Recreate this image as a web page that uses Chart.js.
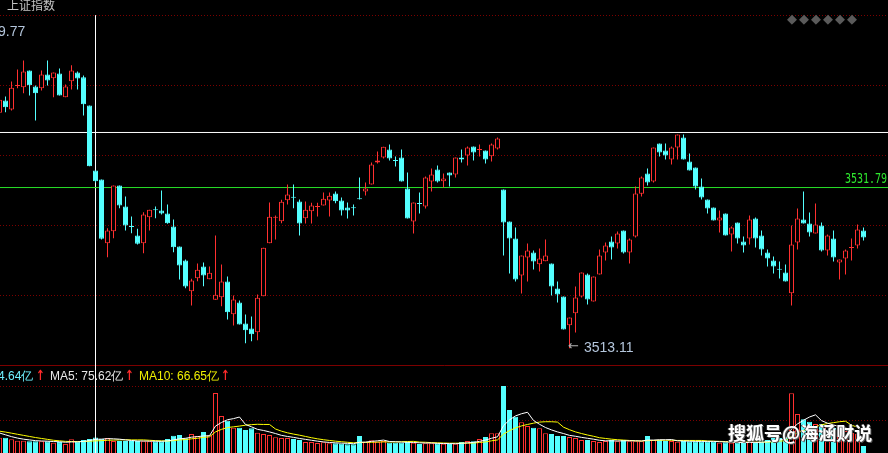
<!DOCTYPE html>
<html><head><meta charset="utf-8">
<script src="https://cdn.jsdelivr.net/npm/chart.js@4.4.1/dist/chart.umd.min.js"></script>
<style>
html,body{margin:0;padding:0;background:#000;width:888px;height:453px;overflow:hidden;}
#wrap{position:relative;width:888px;height:453px;background:#000;}
#pc{position:absolute;left:0;top:0;}
#vc{position:absolute;left:0;top:365px;}
.t{position:absolute;white-space:nowrap;line-height:12px;font-size:12px;font-family:"Liberation Sans",Arial,sans-serif;z-index:5;}
.n{font-family:"Liberation Sans Narrow","Liberation Sans",sans-serif;font-size:14px;line-height:14px;color:#b4c6dc;}
.ar{color:#ff2a2a;font-family:"DejaVu Sans",sans-serif;font-weight:bold;font-size:14px;display:inline-block;transform:scaleX(0.75);transform-origin:left center;}
.dm span{display:inline-block;width:12px;text-align:center;}
</style></head><body>
<div id="wrap">
<canvas id="pc" width="888" height="365"></canvas>
<canvas id="vc" width="888" height="88"></canvas>
<div class="t" id="title" style="left:7px;top:-1px;color:#c4c4c4;font-family:'Noto Sans CJK SC',sans-serif;"></div>
<div class="t n" id="topLbl" style="left:-2px;top:24px;"></div>
<div class="t" id="lowArrow" style="left:568px;top:340px;color:#b0b0b0;font-family:'DejaVu Sans',sans-serif;font-size:13px;"></div>
<div class="t n" id="lowLbl" style="left:584px;top:340px;"></div>
<div class="t" id="lastLbl" style="left:845px;top:172px;color:#2ee82e;font-family:'DejaVu Sans Mono',monospace;font-size:10px;line-height:10px;transform:scaleY(1.35);transform-origin:left top;"></div>
<div class="t dm" id="dots" style="left:786px;top:12px;color:#5a5a5a;font-family:'DejaVu Sans',sans-serif;font-size:13px;line-height:14px;"></div>
<div class="t" id="vLbl" style="left:-2px;top:370px;color:#6ff0ff;"></div>
<div class="t" id="vArr1" style="left:36px;top:369px;"></div>
<div class="t" id="ma5Lbl" style="left:50px;top:370px;color:#e8e8e8;"></div>
<div class="t" id="vArr2" style="left:125px;top:369px;"></div>
<div class="t" id="ma10Lbl" style="left:139px;top:370px;color:#f0f000;"></div>
<div class="t" id="vArr3" style="left:221px;top:369px;"></div>
<div class="t" id="wm" style="left:728px;top:422px;color:#fff;font-family:'Noto Sans CJK SC',sans-serif;font-weight:bold;font-size:18px;line-height:20px;text-shadow:1px 1px 0 #555,-1px 0 0 #333;"></div>
</div>
<script>
// ---------- data (5-minute candles of 上证指数) ----------
const titleText = '上证指数';
const opens = [3540.48,3541.90,3540.86,3543.60,3543.45,3545.39,3543.53,3543.33,3544.93,3544.50,
3545.04,3542.29,3544.15,3545.16,3544.61,3541.32,3533.77,3532.72,3525.32,3526.71,
3532.02,3529.58,3527.31,3526.21,3525.32,3528.34,3529.25,3529.12,3528.77,3527.26,
3524.93,3523.30,3519.74,3521.25,3522.61,3521.13,3518.74,3519.04,3520.86,3517.06,
3518.42,3515.98,3515.40,3514.97,3519.15,3525.32,3528.29,3527.87,3530.31,3530.71,
3530.16,3528.22,3529.04,3529.53,3529.70,3530.28,3531.09,3530.28,3529.47,3529.48,
3530.53,3531.33,3532.14,3534.70,3535.28,3536.21,3534.98,3535.28,3531.67,3527.84,
3529.98,3529.58,3532.49,3533.88,3532.52,3533.54,3533.30,3535.28,3535.51,3536.56,
3536.15,3536.09,3535.43,3536.32,3531.56,3527.84,3525.86,3521.56,3523.65,3524.23,
3522.87,3523.22,3522.96,3520.05,3519.12,3515.78,3517.18,3519.12,3521.68,3518.54,
3521.68,3524.23,3525.51,3525.28,3526.79,3524.23,3526.09,3531.06,3533.42,3532.49,
3536.91,3536.09,3535.05,3536.44,3537.60,3534.81,3534.12,3531.91,3530.40,3529.47,
3527.95,3528.77,3526.33,3527.72,3525.51,3525.86,3528.19,3526.21,3524.23,3523.30,
3522.34,3521.91,3519.50,3525.40,3528.07,3527.61,3526.44,3527.37,3524.47,3525.86,
3523.07,3523.54,3524.77,3525.05,3526.79];
const highs = [3542.25,3542.37,3544.11,3545.51,3546.55,3545.39,3543.65,3545.39,3546.55,3545.16,
3545.62,3543.76,3546.01,3545.28,3544.81,3541.32,3533.77,3532.72,3527.06,3532.02,
3532.02,3530.74,3528.42,3526.99,3528.92,3529.20,3529.58,3531.44,3529.81,3528.07,
3524.93,3523.42,3521.18,3522.96,3523.07,3522.61,3526.21,3522.84,3521.44,3519.24,
3518.65,3517.03,3516.79,3519.35,3524.78,3530.05,3528.54,3530.36,3532.14,3532.14,
3530.40,3530.16,3530.01,3530.01,3531.21,3531.21,3531.33,3530.63,3530.05,3529.81,
3532.95,3532.37,3534.70,3535.98,3536.52,3536.79,3535.39,3536.21,3533.53,3530.05,
3531.21,3533.07,3534.00,3534.35,3533.42,3533.54,3535.28,3536.21,3536.56,3536.56,
3536.79,3536.09,3536.91,3537.60,3531.56,3527.84,3527.14,3523.89,3525.28,3524.47,
3524.70,3525.75,3522.96,3520.86,3519.12,3516.68,3520.28,3521.91,3521.79,3521.44,
3524.58,3525.40,3526.09,3526.68,3526.79,3525.86,3531.91,3533.07,3534.00,3536.44,
3536.91,3536.91,3536.56,3537.95,3537.95,3535.74,3534.12,3532.84,3530.40,3529.47,
3529.12,3528.77,3527.26,3527.72,3526.09,3528.54,3528.30,3526.79,3524.58,3523.77,
3523.19,3522.84,3527.37,3529.35,3531.33,3528.88,3529.93,3527.72,3526.33,3526.79,
3523.42,3524.58,3525.86,3527.49,3527.14];
const lows = [3540.28,3540.54,3540.74,3543.33,3542.75,3542.49,3539.58,3543.07,3543.65,3542.29,
3542.49,3542.29,3543.18,3543.18,3540.16,3534.27,3532.37,3525.75,3523.69,3525.90,
3529.38,3526.79,3526.48,3525.16,3524.15,3526.79,3528.22,3528.65,3527.57,3524.27,
3521.10,3520.09,3518.07,3520.90,3520.32,3521.13,3518.74,3517.99,3516.45,3515.75,
3515.86,3513.69,3513.92,3514.04,3519.15,3525.32,3525.75,3527.64,3529.81,3529.38,
3526.21,3527.61,3527.61,3528.42,3529.70,3528.42,3529.97,3528.54,3528.19,3528.54,
3530.40,3530.86,3532.14,3534.58,3535.16,3534.93,3534.23,3532.49,3528.19,3526.44,
3528.77,3529.35,3531.33,3532.37,3531.79,3531.91,3532.95,3534.70,3534.35,3534.93,
3535.39,3534.58,3534.81,3536.21,3523.89,3521.79,3520.86,3519.47,3520.86,3522.26,
3522.03,3523.22,3519.24,3518.42,3515.28,3513.11,3514.93,3519.00,3518.19,3518.54,
3521.68,3523.30,3523.42,3524.70,3524.12,3522.96,3525.98,3530.74,3532.02,3532.37,
3535.39,3535.05,3534.46,3535.05,3535.05,3533.77,3531.56,3530.40,3528.77,3527.95,
3526.56,3526.21,3524.35,3525.28,3524.23,3525.16,3524.82,3523.89,3522.61,3521.79,
3521.21,3520.86,3518.07,3524.58,3527.61,3526.09,3526.44,3524.35,3523.89,3523.19,
3521.10,3521.68,3523.30,3524.70,3525.63];
const closes = [3541.99,3541.13,3543.38,3543.70,3545.28,3543.68,3542.75,3544.93,3544.23,3545.16,
3542.49,3543.53,3545.39,3544.46,3541.47,3534.27,3532.52,3525.83,3526.79,3532.02,
3529.70,3527.37,3527.21,3525.25,3528.65,3529.20,3529.15,3528.77,3527.64,3524.85,
3522.72,3520.28,3520.98,3522.22,3521.56,3521.87,3519.32,3520.86,3517.29,3518.77,
3515.86,3515.20,3514.74,3518.97,3524.78,3528.39,3528.39,3530.13,3530.98,3530.61,
3527.61,3529.20,3529.70,3529.63,3530.48,3530.83,3530.20,3529.12,3529.12,3529.38,
3530.43,3531.67,3534.46,3534.93,3536.52,3535.16,3534.88,3532.49,3528.19,3530.05,
3529.88,3532.95,3533.30,3532.49,3532.84,3533.19,3535.28,3535.05,3536.44,3535.86,
3536.27,3535.05,3536.79,3537.49,3527.72,3525.86,3521.10,3523.89,3524.47,3523.19,
3523.54,3523.89,3520.28,3519.35,3515.28,3516.68,3519.00,3521.91,3518.77,3521.44,
3523.89,3525.05,3524.82,3526.44,3524.23,3525.75,3531.09,3532.95,3532.37,3536.44,
3535.86,3535.51,3536.44,3537.95,3535.05,3533.77,3531.91,3530.63,3529.35,3527.95,
3528.30,3526.21,3527.14,3525.86,3525.05,3528.07,3525.86,3524.58,3523.54,3522.61,
3522.24,3520.86,3525.16,3528.19,3527.61,3526.56,3527.49,3524.47,3526.21,3523.65,
3523.42,3524.47,3524.87,3526.91,3525.98];
// turnover (亿)
const volumes = [84,84,75,68,68,64,64,64,64,57,
60,50,75,64,72,77,84.64,79,82,66,
66,66,66,66,64,64,64,64,77,95,
99,81,104.5,93.5,115.5,97,330,203.5,177.5,139,
139,126.5,136,111.5,104.5,99,86,82.5,82.5,77,
71.5,60.5,60.5,55,59,53,53,51,48,48,
93.5,62,70,62,66,57,57,57,60.5,57,
49.5,53,53,53,51,49.5,51,60.5,66,64,
77,88,108,108,368.5,236.5,200,169,148.5,139,
136,108,104.5,93.5,93.5,88,82.5,71.5,71.5,66,
60.5,66,71.5,64,71.5,64,64,64,93.5,71.5,
71.5,66,66,62,66,64,64,64,64,62,
57,59,57,57,55,60.5,60.5,64,71.5,82.5,
82.5,90,328,214.5,185,172,159.5,159.5,143,137.5,
126.5,121,110,104.5,38.5];
const ma5 = [110,100,90,82,76,72,68,66,65,63,
62,59,61,61,64,68,75.62,76,79,78,
76,72,69,66,66,65,65,64,67,72,
78,81,87,90,94,95,148,168,183,189,
198,157,144,130,124,116,107,97,91,86,
80,75,70,65,61,58,56,54,53,51,
59,60,64,67,71,63,62,60,59,58,
56,55,55,53,52,52,51,53,56,58,
64,71,81,89,150,182,204,216,224,179,
158,140,127,116,107,97,92,86,81,76,
70,67,67,66,67,67,67,66,71,71,
73,73,74,67,66,65,64,64,64,64,
62,61,60,58,57,58,58,59,62,68,
72,78,131,160,180,198,210,178,164,154,
145,137,128,120,104];
const ma10 = [120,115,109,103,97,91,85,80,75,70,
67,64,63,63,63,65,66.65,68,70,71,
72,73,72,72,72,70,68,67,66,68,
72,74,78,81,86,89,116,130,140,144,
148,153,156,158,157,157,132,120,111,104,
98,91,84,78,73,69,65,62,59,56,
58,58,59,60,61,61,61,62,63,64,
60,59,57,56,55,54,54,54,54,55,
58,61,67,72,104,123,138,149,157,164,
170,172,172,170,142,128,116,107,99,92,
84,80,76,73,71,69,67,66,68,69,
70,70,70,69,69,69,69,69,66,65,
64,63,62,61,61,60,60,60,60,62,
65,68,95,111,124,135,145,155,162,167,
172,175,153,142,127];
const priceGridLines = [3551.79,3543.65,3535.51,3527.37,3519.24];
const whiteLevel = 3538.19;      // white horizontal line
const greenLevel = 3531.79;      // green horizontal line
const cursorIndex = 16;          // crosshair candle
const volGridLines = [178.75,365.75];
const topLabel = '9.77';
const lowLabel = '3513.11';
const lastLabel = '3531.79';
const volLabel = '4.64亿';
const ma5Label = 'MA5: 75.62亿';
const ma10Label = 'MA10: 66.65亿';
const watermark = '搜狐号@海涵财说';

// ---------- view settings ----------
const X_MIN = 1/12, X_MAX = 1/12 + 148;
const P_MAX = 3553.59, P_MIN = 3511.16;
const V_MIN = 0, V_MAX = 484;
const RED = '#ff3030', CYAN = '#54ffff';

const idx = opens.map((_, k) => k);
const isUp = idx.map(k => closes[k] >= opens[k]);
const isDoji = idx.map(k => Math.abs(closes[k] - opens[k]) < 0.15);
const edgeCol = idx.map(k => isUp[k] ? RED : CYAN);
const fillCol = idx.map(k => (isUp[k] && !isDoji[k]) ? '#000000' : edgeCol[k]);

const baseOpts = {
  responsive:false, animation:false, events:[],
  layout:{padding:0},
  plugins:{legend:{display:false}, tooltip:{enabled:false}, title:{display:false}}
};

new Chart(document.getElementById('pc'), {
  type:'bar',
  data:{datasets:[
    {type:'bar', data: idx.map(k => ({x:k, y:[opens[k], closes[k]]})),
     backgroundColor: fillCol, borderColor: edgeCol, borderWidth:1, borderSkipped:false,
     barThickness:5, grouped:false, minBarLength:1, inflateAmount:0, order:0},
    {type:'bar', data: idx.map(k => ({x:k, y:[lows[k], highs[k]]})),
     backgroundColor: edgeCol, borderWidth:0, barThickness:1, grouped:false, inflateAmount:0, order:1},
    {type:'line', data:[{x:X_MIN,y:whiteLevel},{x:X_MAX,y:whiteLevel}], borderColor:'#ffffff', borderWidth:1, pointRadius:0, order:3},
    {type:'line', data:[{x:X_MIN,y:greenLevel},{x:X_MAX,y:greenLevel}], borderColor:'#28e028', borderWidth:1, pointRadius:0, order:3},
    {type:'line', data:[{x:cursorIndex,y:priceGridLines[0]},{x:cursorIndex,y:P_MIN}], borderColor:'#ffffff', borderWidth:1, pointRadius:0, order:3}
  ]},
  options:Object.assign({}, baseOpts, {
    scales:{
      x:{type:'linear', min:X_MIN, max:X_MAX, offset:false, display:false},
      y:{type:'linear', min:P_MIN, max:P_MAX, display:true,
         ticks:{display:false}, grid:{color:'#7c0000', drawTicks:false, lineWidth:1},
         border:{display:false, dash:[1,2]},
         afterBuildTicks: s => { s.ticks = priceGridLines.map(v => ({value:v})); }}
    }
  })
});

new Chart(document.getElementById('vc'), {
  type:'bar',
  data:{datasets:[
    {type:'line', data: idx.map(k => ({x:k, y:ma5[k]})), borderColor:'#ffffff', borderWidth:1, pointRadius:0, tension:0, order:0},
    {type:'line', data: idx.map(k => ({x:k, y:ma10[k]})), borderColor:'#ffff00', borderWidth:1, pointRadius:0, tension:0, order:1},
    {type:'line', data:[{x:cursorIndex,y:V_MIN},{x:cursorIndex,y:V_MAX}], borderColor:'#ffffff', borderWidth:1, pointRadius:0, order:2},
    {type:'bar', data: idx.map(k => ({x:k, y:volumes[k]})),
     backgroundColor: idx.map(k => isUp[k] ? '#000000' : CYAN), borderColor: edgeCol,
     borderWidth:1, borderSkipped:'start', barThickness:5, grouped:false, inflateAmount:0, order:3}
  ]},
  options:Object.assign({}, baseOpts, {
    scales:{
      x:{type:'linear', min:X_MIN, max:X_MAX, offset:false, display:true, position:'top',
         ticks:{display:false}, grid:{display:false, drawTicks:false},
         border:{display:true, color:'#7c0000', width:1}},
      y:{type:'linear', min:V_MIN, max:V_MAX, display:true,
         ticks:{display:false}, grid:{color:'#7c0000', drawTicks:false, lineWidth:1},
         border:{display:false, dash:[1,2]},
         afterBuildTicks: s => { s.ticks = volGridLines.map(v => ({value:v})); }}
    }
  })
});

// ---------- texts ----------
document.getElementById('title').textContent = titleText;
document.getElementById('topLbl').textContent = topLabel;
document.getElementById('lowArrow').textContent = '←';
document.getElementById('lowLbl').textContent = lowLabel;
document.getElementById('lastLbl').textContent = lastLabel;
document.getElementById('dots').innerHTML = '<span>◆</span><span>◆</span><span>◆</span><span>◆</span><span>◆</span><span>◆</span>';
document.getElementById('vLbl').textContent = volLabel;
document.getElementById('ma5Lbl').textContent = ma5Label;
document.getElementById('ma10Lbl').textContent = ma10Label;
['vArr1','vArr2','vArr3'].forEach(id => { document.getElementById(id).innerHTML = '<span class="ar">↑</span>'; });
document.getElementById('wm').textContent = watermark;
</script>
</body></html>
